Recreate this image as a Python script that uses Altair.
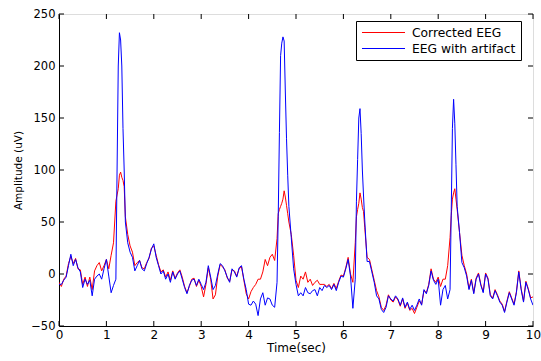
import altair as alt
import pandas as pd

time_s = [
    0.00, 0.05, 0.10, 0.15, 0.20, 0.25, 0.30, 0.35, 0.40, 0.45,
    0.50, 0.55, 0.60, 0.65, 0.70, 0.75, 0.80, 0.85, 0.90, 0.95,
    1.00, 1.05, 1.10, 1.15, 1.20, 1.225, 1.25, 1.275, 1.30, 1.325,
    1.35, 1.375, 1.40, 1.45, 1.50, 1.55, 1.60, 1.65, 1.70, 1.75,
    1.80, 1.85, 1.90, 1.95, 2.00, 2.05, 2.10, 2.15, 2.20, 2.25,
    2.30, 2.35, 2.40, 2.45, 2.50, 2.55, 2.60, 2.65, 2.70, 2.75,
    2.80, 2.85, 2.90, 2.95, 3.00, 3.05, 3.10, 3.15, 3.20, 3.25,
    3.30, 3.35, 3.40, 3.45, 3.50, 3.55, 3.60, 3.65, 3.70, 3.75,
    3.80, 3.85, 3.90, 3.95, 4.00, 4.05, 4.10, 4.15, 4.20, 4.25,
    4.30, 4.35, 4.40, 4.45, 4.50, 4.55, 4.60, 4.625, 4.65, 4.675,
    4.70, 4.725, 4.75, 4.775, 4.80, 4.825, 4.85, 4.90, 4.95, 5.00,
    5.05, 5.10, 5.15, 5.20, 5.25, 5.30, 5.35, 5.40, 5.45, 5.50,
    5.55, 5.60, 5.65, 5.70, 5.75, 5.80, 5.85, 5.90, 5.95, 6.00,
    6.05, 6.10, 6.15, 6.20, 6.25, 6.275, 6.30, 6.325, 6.35, 6.375,
    6.40, 6.425, 6.45, 6.50, 6.55, 6.60, 6.65, 6.70, 6.75, 6.80,
    6.85, 6.90, 6.95, 7.00, 7.05, 7.10, 7.15, 7.20, 7.25, 7.30,
    7.35, 7.40, 7.45, 7.50, 7.55, 7.60, 7.65, 7.70, 7.75, 7.80,
    7.85, 7.90, 7.95, 8.00, 8.05, 8.10, 8.15, 8.20, 8.25, 8.275,
    8.30, 8.325, 8.35, 8.375, 8.40, 8.45, 8.50, 8.55, 8.60, 8.65,
    8.70, 8.75, 8.80, 8.85, 8.90, 8.95, 9.00, 9.05, 9.10, 9.15,
    9.20, 9.25, 9.30, 9.35, 9.40, 9.45, 9.50, 9.55, 9.60, 9.65,
    9.70, 9.75, 9.80, 9.85, 9.90, 9.95, 10.00,
]

eeg_with_artifact = [
    -10, -10, -6, -3, 8, 19, 8, 14, 6, 2,
    -13, -5, -10, -6, -21, -5, -2, 0, -5, 5,
    14, -2, -18, -11, -5, 100, 200, 232, 225, 200,
    140, 100, 50, 30, 21, 16, 3, 8, 13, 5,
    3, 10, 16, 24, 29, 16, 8, 0, 3, -5,
    0, -8, 2, -5, 0, 3, -5, -13, -19, -11,
    -6, -5, -11, -5, -10, -15, -8, 8, -3, -15,
    -11, 0, 10, 8, 3, -3, -8, 5, 2, -3,
    6, 8, -5, -15, -29, -30, -26, -29, -40, -24,
    -18, -30, -23, -24, -30, -32, -8, 55, 136, 210,
    222, 228, 224, 175, 130, 95, 65, 35, 5, -10,
    -21, -18, -21, -13, -18, -19, -16, -15, -21, -13,
    -16, -11, -13, -11, -15, -10, -16, -8, -2, -3,
    5, 14, -2, -33, -5, 70, 110, 150, 159, 135,
    100, 75, 52, 12, 12, 2, -8, -21, -24, -34,
    -37, -32, -21, -24, -26, -21, -24, -30, -23, -32,
    -27, -34, -30, -35, -30, -24, -30, -15, -19, -11,
    3, -6, -10, -5, -30, -15, -11, -24, -15, 60,
    140, 168, 145, 105, 65, 40, 11, 6, -2, -15,
    -6, -19, -5, 0, -11, -18, 0, -5, -21, -24,
    -16, -21, -27, -30, -37, -27, -18, -24, -30, -18,
    2, -15, -27, -8, -15, -24, -30,
]

corrected_eeg = [
    -8, -12, -5, -2, 10, 17, 10, 15, 5, 4,
    -10, -3, -12, -3, -15, 3, 8, 11, 3, 8,
    14, 5, 18, 30, 70, 76, 82, 95, 98, 93,
    90, 84, 55, 38, 27, 21, 8, 11, 13, 6,
    5, 11, 15, 25, 27, 18, 9, 2, 4, -3,
    2, -6, 3, -4, 1, 4, -3, -12, -18, -12,
    -5, -4, -12, -6, -12, -22, -10, 6, -5, -24,
    -20, -2, 9, 7, 4, -4, -7, 4, 3, -2,
    5, 7, -6, -19, -24, -17, -13, -10, -5, -5,
    2, 14, 8, 16, 19, 13, 34, 58, 62, 65,
    68, 72, 80, 74, 66, 58, 50, 38, 18, -6,
    -13, -2, -5, 2, -8, -5, -11, -8, -6, -10,
    -10, -10, -12, -10, -14, -9, -14, -7, -1, -2,
    6, 16, 0, -8, 30, 55, 62, 68, 78, 72,
    64, 60, 45, 16, 14, 4, -6, -16, -22, -32,
    -35, -30, -20, -25, -27, -22, -25, -31, -24, -33,
    -28, -35, -33, -38, -32, -26, -29, -16, -18, -10,
    5, -5, -8, -3, -12, -5, -5, 8, 35, 56,
    72, 78, 82, 72, 62, 40, 18, 8, 0, -14,
    -5, -18, -4, 1, -10, -17, 1, -4, -20, -23,
    -15, -20, -26, -29, -36, -26, -17, -23, -29, -17,
    3, -14, -26, -7, -14, -23, -22,
]

series_names = ["Corrected EEG", "EEG with artifact"]
series_colors = ["#ff0000", "#0000ff"]
x_ticks = [0, 1, 2, 3, 4, 5, 6, 7, 8, 9, 10]
y_ticks = [-50, 0, 50, 100, 150, 200, 250]

W, H = 474, 312
TICK = 5
FONT = "DejaVu Sans"

df = pd.concat([
    pd.DataFrame({"t": time_s, "v": corrected_eeg, "series": series_names[0]}),
    pd.DataFrame({"t": time_s, "v": eeg_with_artifact, "series": series_names[1]}),
])

xscale = alt.Scale(domain=[0, 10], nice=False, zero=False)
yscale = alt.Scale(domain=[-50, 250], nice=False, zero=False)
color = alt.Color(
    "series:N",
    scale=alt.Scale(domain=series_names, range=series_colors),
    legend=alt.Legend(
        title=None, orient="none", legendX=297, legendY=7,
        symbolType="stroke", symbolSize=1850, symbolStrokeWidth=1,
        clipHeight=13,
        labelFont=FONT, labelFontSize=12.3, labelColor="#000000",
        strokeColor="#000000", fillColor="#ffffff", padding=5,
        rowPadding=3, labelOffset=6, labelLimit=300,
    ),
)

xaxis = alt.Axis(values=x_ticks, ticks=False, labelFont=FONT, labelFontSize=12,
                 labelColor="#000000", labelPadding=3, title="Time(sec)",
                 titleFont=FONT, titleFontSize=12, titleFontWeight="normal",
                 titleColor="#000000", titlePadding=2, domainColor="#000000",
                 labelFlush=False, grid=False)
yaxis = alt.Axis(values=y_ticks, ticks=False, labelFont=FONT, labelFontSize=11.5,
                 labelColor="#000000", labelPadding=4, title="Amplitude (uV)",
                 titleFont=FONT, titleFontSize=10.5, titleFontWeight="normal",
                 titleColor="#000000", titlePadding=7, domainColor="#000000",
                 labelFlush=False, grid=False)

base = alt.Chart(df)
red = base.transform_filter(alt.datum.series == series_names[0]).mark_line(
    strokeWidth=1, clip=True
).encode(
    x=alt.X("t:Q", scale=xscale, axis=xaxis),
    y=alt.Y("v:Q", scale=yscale, axis=yaxis),
    color=color,
    order="t:Q",
)
blue = base.transform_filter(alt.datum.series == series_names[1]).mark_line(
    strokeWidth=1, clip=True
).encode(
    x=alt.X("t:Q", scale=xscale),
    y=alt.Y("v:Q", scale=yscale),
    color=color,
    order="t:Q",
)

xt = pd.DataFrame({"tick": x_ticks})
yt = pd.DataFrame({"tick": y_ticks})
xt_bottom = alt.Chart(xt).mark_rule(color="#000000", strokeWidth=1).encode(
    x=alt.X("tick:Q", scale=xscale), y=alt.value(H), y2=alt.value(H - TICK))
xt_top = alt.Chart(xt).mark_rule(color="#000000", strokeWidth=1).encode(
    x=alt.X("tick:Q", scale=xscale), y=alt.value(0), y2=alt.value(TICK))
yt_left = alt.Chart(yt).mark_rule(color="#000000", strokeWidth=1).encode(
    y=alt.Y("tick:Q", scale=yscale), x=alt.value(0), x2=alt.value(TICK))
yt_right = alt.Chart(yt).mark_rule(color="#000000", strokeWidth=1).encode(
    y=alt.Y("tick:Q", scale=yscale), x=alt.value(W), x2=alt.value(W - TICK))

chart = alt.layer(red, blue, xt_bottom, xt_top, yt_left, yt_right).properties(
    width=W, height=H,
    autosize=alt.AutoSizeParams(type="none"),
    padding={"left": 59, "top": 14, "right": 8, "bottom": 35},
).configure_view(
    stroke="#000000", strokeWidth=1
).configure(background="#ffffff")

chart.save("out.html", embed_options={"renderer": "svg", "actions": False})
